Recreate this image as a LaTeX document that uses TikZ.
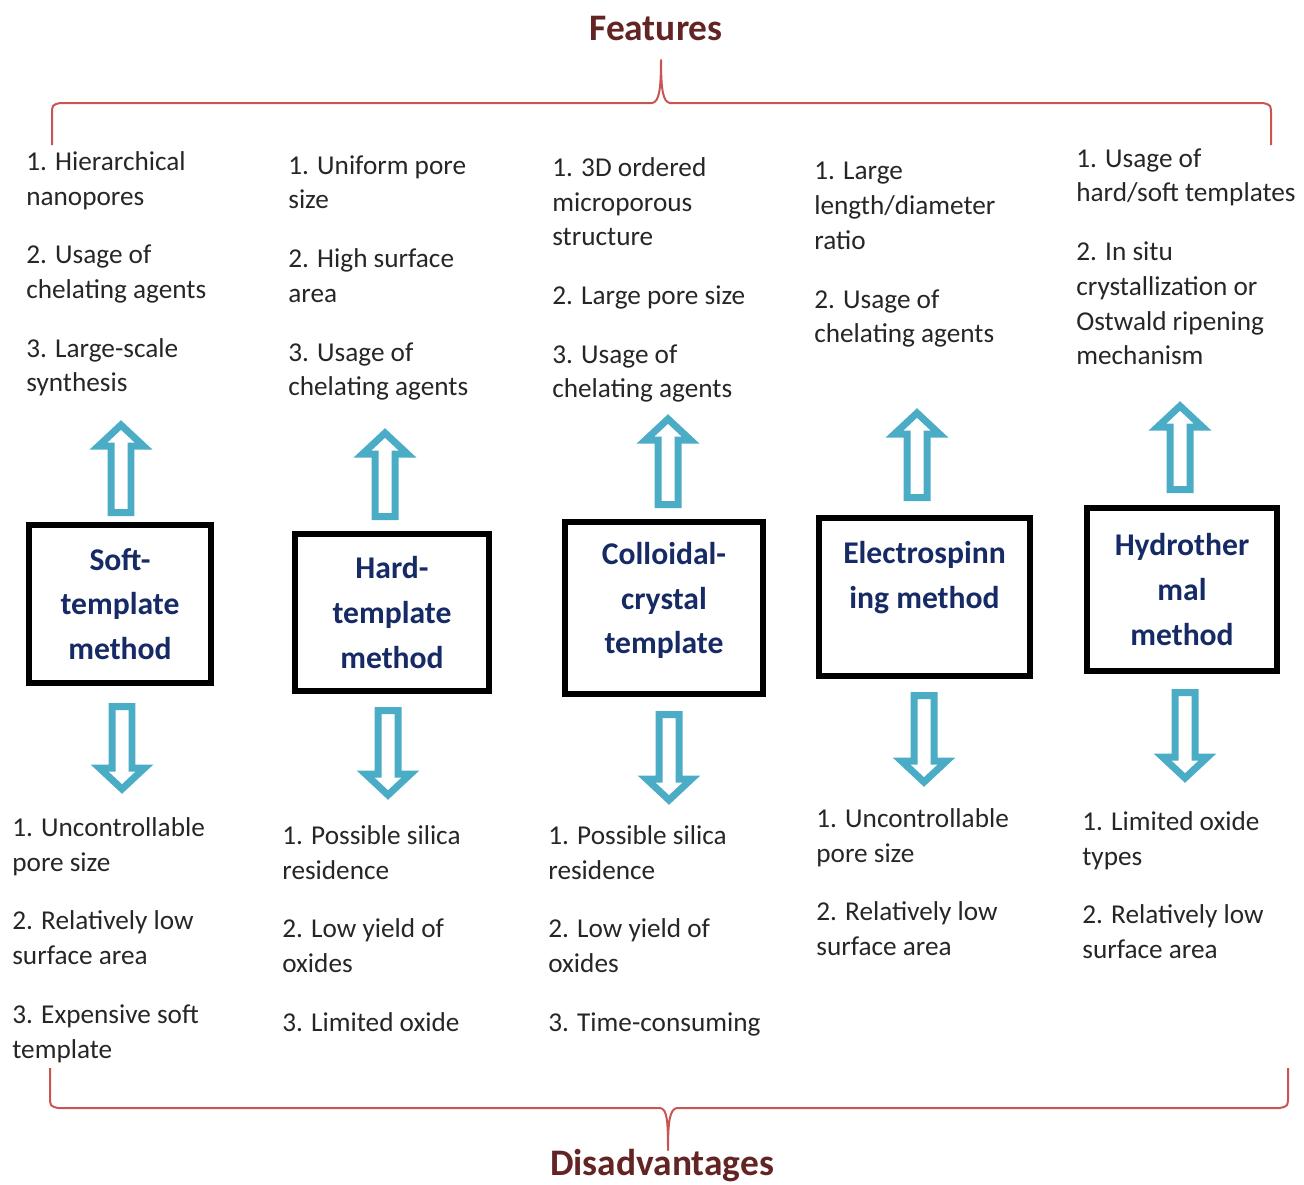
\documentclass[tikz,border=0pt]{standalone}
\usepackage{fontspec}
\setmainfont{Carlito}
\usetikzlibrary{calc}

\definecolor{arrowblue}{RGB}{75,172,198}
\definecolor{boxnavy}{RGB}{22,43,102}
\definecolor{titlered}{RGB}{99,37,35}
\definecolor{bracered}{RGB}{200,85,82}

\tikzset{
  methodbox/.style={draw=black, line width=0.12cm, fill=white, align=center,
    text=boxnavy, inner sep=0pt, font=\fontsize{18}{25.5}\selectfont\bfseries},
  itemtext/.style={anchor=north west, align=left, inner sep=0pt, text=black!85,
    font=\fontsize{15.5}{19.8}\selectfont},
  headline/.style={anchor=base, inner sep=0pt, text=titlered,
    font=\fontsize{21.3}{25}\selectfont\bfseries},
  brace/.style={draw=bracered, line width=0.04cm, line join=round},
  % hollow block arrow, from tail to tip
  blockarrow/.style={draw=arrowblue, line width=0.14cm, fill=white, line join=miter,
    to path={($(\tikztostart)!0.2cm!90:(\tikztotarget)$)
      -- ($(\tikztotarget)!0.42cm!(\tikztostart)!0.2cm!90:(\tikztotarget)$)
      -- ($(\tikztotarget)!0.42cm!(\tikztostart)!0.45cm!90:(\tikztotarget)$)
      -- (\tikztotarget)
      -- ($(\tikztotarget)!0.42cm!(\tikztostart)!0.45cm!-90:(\tikztotarget)$)
      -- ($(\tikztotarget)!0.42cm!(\tikztostart)!0.2cm!-90:(\tikztotarget)$)
      -- ($(\tikztostart)!0.2cm!-90:(\tikztotarget)$) -- cycle}}
}

\begin{document}
\begin{tikzpicture}[x=0.02cm, y=-0.02cm]
    \useasboundingbox (0,0) rectangle (1304,1184);

    \node[headline] (features) at (656,40) {Features};
    \node[headline] (disadv) at (662,1175) {Disadvantages};

    % braces
    \draw[brace] (52,145) -- (52,115) .. controls (52,105) .. (60,103) -- (652,103)
        .. controls (659,102) and (661,90) .. (661,60)
        .. controls (661,90) and (663,102) .. (670,103) -- (1263,103)
        .. controls (1271,105) .. (1271,115) -- (1271,145);
    \draw[brace] (50,1068) -- (50,1096) .. controls (50,1106) .. (58,1108) -- (660,1108)
        .. controls (667,1109) and (668,1120) .. (668,1150)
        .. controls (668,1120) and (670,1109) .. (677,1108) -- (1280,1108)
        .. controls (1288,1106) .. (1288,1096) -- (1288,1068);

    % methods
    \node[methodbox, minimum width=3.64cm, minimum height=3.16cm] (m1) at (120,604) {Soft-\\template\\method};
    \node[methodbox, minimum width=3.88cm, minimum height=3.14cm] (m2) at (392,612.5) {Hard-\\template\\method};
    \node[methodbox, minimum width=3.96cm, minimum height=3.44cm, text depth=11.5pt] (m3) at (664,608) {Colloidal-\\crystal\\template};
    \node[methodbox, minimum width=4.22cm, minimum height=3.16cm] (m4) at (924.5,597) {Electrospinn\\ing method\\~};
    \node[methodbox, minimum width=3.80cm, minimum height=3.26cm] (m5) at (1182,589.5) {Hydrother\\mal\\method};

    % features
    \node[itemtext] (feat1) at (26,151) {1. Hierarchical\\nanopores\\[13.6pt]2. Usage of\\chelating agents\\[13.6pt]3. Large-scale\\synthesis};
    \node[itemtext] (feat2) at (288,155) {1. Uniform pore\\size\\[13.6pt]2. High surface\\area\\[13.6pt]3. Usage of\\chelating agents};
    \node[itemtext] (feat3) at (552,157) {1. 3D ordered\\microporous\\structure\\[13.6pt]2. Large pore size\\[13.6pt]3. Usage of\\chelating agents};
    \node[itemtext] (feat4) at (814,162) {1. Large\\length/diameter\\ratio\\[13.6pt]2. Usage of\\chelating agents};
    \node[itemtext] (feat5) at (1076,148) {1. Usage of\\hard/soft templates\\[13.6pt]2. In situ\\crystallization or\\Ostwald ripening\\mechanism};

    % disadvantages
    \node[itemtext] (dis1) at (12,817) {1. Uncontrollable\\pore size\\[13.6pt]2. Relatively low\\surface area\\[13.6pt]3. Expensive soft\\template};
    \node[itemtext] (dis2) at (282,825) {1. Possible silica\\residence\\[13.6pt]2. Low yield of\\oxides\\[13.6pt]3. Limited oxide};
    \node[itemtext] (dis3) at (548,825) {1. Possible silica\\residence\\[13.6pt]2. Low yield of\\oxides\\[13.6pt]3. Time-consuming};
    \node[itemtext] (dis4) at (816,808) {1. Uncontrollable\\pore size\\[13.6pt]2. Relatively low\\surface area};
    \node[itemtext] (dis5) at (1082,811) {1. Limited oxide\\types\\[13.6pt]2. Relatively low\\surface area};

    % arrows up to features, down to disadvantages
    \foreach \n/\ux/\ua/\ub/\dx/\da/\db in {1/121/512.5/425/122/706.5/789,
        2/385/516.5/433/388/710.5/795, 3/668/504.5/419/669/714.5/800,
        4/917/497.5/413/924/695.5/782, 5/1180/489.5/406/1185/692.5/778}{
        \coordinate (up\n-s) at (\ux,\ua);
        \coordinate (up\n-e) at (\ux,\ub);
        \coordinate (dn\n-s) at (\dx,\da);
        \coordinate (dn\n-e) at (\dx,\db);
        \draw[blockarrow] (up\n-s) to (up\n-e);
        \draw[blockarrow] (dn\n-s) to (dn\n-e);
    }
\end{tikzpicture}
\end{document}
